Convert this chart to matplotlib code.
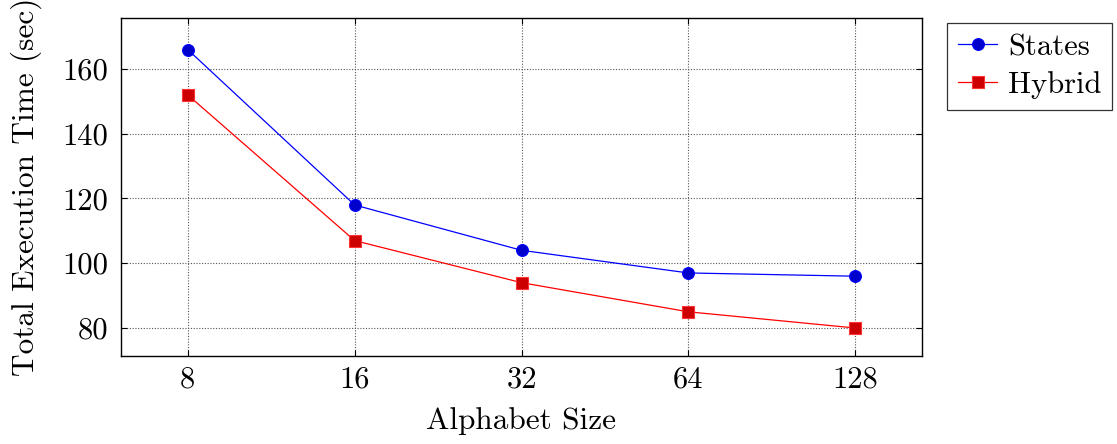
import matplotlib
matplotlib.use("Agg")
import matplotlib.pyplot as plt
from matplotlib.ticker import FixedLocator, NullLocator

alphabet = [8, 16, 32, 64, 128]
tick_labels = ["8", "16", "32", "64", "128"]
states = [166, 118, 104, 97, 96]
hybrid = [152, 107, 94, 85, 80]
yticks = [80, 100, 120, 140, 160]

plt.rcParams['font.family'] = ['cmr10', 'DejaVu Serif']
plt.rcParams['mathtext.fontset'] = 'cm'
plt.rcParams['axes.formatter.use_mathtext'] = True

fig = plt.figure(figsize=(11.17, 4.44), dpi=100)
ax = fig.add_axes([121/1117, (444-356)/444, 801/1117, 338/444])

ax.plot(alphabet, states, color='#0000ff', lw=0.9, marker='o', markersize=8.5,
        markerfacecolor='#0000cc', markeredgecolor='#0000ff', markeredgewidth=0.8, label='States')
ax.plot(alphabet, hybrid, color='#ff0000', lw=0.9, marker='s', markersize=8,
        markerfacecolor='#cc0000', markeredgecolor='#ff3333', markeredgewidth=0.8, label='Hybrid')

ax.set_xscale('log', base=2)
ax.set_xlim(2**2.6, 2**7.4)
ax.set_ylim(71.35, 175.75)
ax.xaxis.set_major_locator(FixedLocator(alphabet))
ax.xaxis.set_minor_locator(NullLocator())
ax.set_xticklabels(tick_labels)
ax.set_yticks(yticks)
ax.set_yticklabels([str(v) for v in yticks])

ax.grid(True, linestyle=(0, (1, 1.5)), color='#555555', lw=0.8)
ax.tick_params(direction='in', top=True, right=True, length=4, width=0.8, labelsize=22)
ax.tick_params(axis='y', pad=9)
ax.tick_params(axis='x', pad=7)
for s in ax.spines.values():
    s.set_linewidth(1.0)

ax.set_xlabel('Alphabet Size', fontsize=22.5, va='center')
ax.set_ylabel('Total Execution Time (sec)', fontsize=22.5, va='center')
ax.xaxis.set_label_coords(0.5, (356 - 421) / 338)
ax.yaxis.set_label_coords((26 - 121) / 801, 0.5)

leg = ax.legend(loc='upper left', bbox_to_anchor=((947 - 121) / 801, (356 - 23) / 338),
                fontsize=22, frameon=True, fancybox=False, edgecolor='black',
                borderaxespad=0.0, handlelength=1.3, handletextpad=0.36,
                borderpad=0.35, labelspacing=0.32)
leg.get_frame().set_linewidth(0.9)

fig.savefig('out.png', dpi=100)
